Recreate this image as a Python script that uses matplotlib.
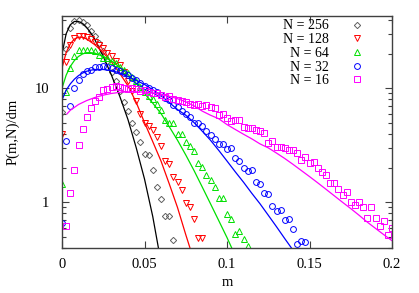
import matplotlib
matplotlib.use("Agg")
import matplotlib.pyplot as plt
import numpy as np
from matplotlib.ticker import FixedLocator, NullFormatter, NullLocator

plt.rcParams['font.family'] = ['Liberation Serif', 'DejaVu Serif']

DM = 0.0025  # histogram bin width in m

# measured histograms P(m,N)/dm, bin k sits at m = (start + k) * DM
p256 = [6.2, 22, 34, 39, 40, 38, 36, 32, 28.5, 25, 21, 17.5, 14, 11.5, 9.5,
        7.5, 6.3, 5.0, 4.1, 3.4, 2.65, 2.6, 1.9, 1.35, 1.07, 0.76, 0.76, 0.47]
p128 = [4.0, 17, 24, 27.5, 28.5, 28.5, 28, 27, 25.5, 24, 22.5, 20.5, 19, 17.5,
        16, 14, 11.5, 9.5, 7.8, 6.0, 5.0, 4.7, 4.3, 3.7, 3.1, 2.3, 2.15, 1.68,
        1.52, 1.28, 0.99, 0.9, 0.71, 0.49, 0.49]
p64 = [1.44, 9.3, 15, 19, 21.5, 21.7, 21.7, 21.5, 21, 19.5, 18.5, 18.5, 17.5,
       16.5, 15.5, 14.5, 13.5, 12.5, 11.5, 10.3, 9.3, 8.5, 8.0, 7.2, 6.5, 5.3,
       5.0, 5.0, 4.0, 4.0, 3.4, 3.1, 2.8, 2.2, 2.05, 1.72, 1.57, 1.37, 1.08,
       1.08, 0.79, 0.71, 0.53, 0.56, 0.48, 0.41]
p32 = [0.66, 3.45, 7.0, 10, 11.8, 13.4, 14.2, 14.5, 15.3, 15.5, 15.7, 15.5,
       15.0, 14.5, 14.2, 13.7, 13.0, 12.3, 11.8, 11.2, 10.5, 10.0, 9.6, 9.3,
       8.7, 8.2, 7.9, 7.1, 6.8, 6.3, 6.0, 5.6, 4.93, 4.93, 4.65, 4.2, 3.89,
       3.6, 3.26, 3.26, 2.95, 3.0, 2.43, 2.28, 2.0, 1.87, 1.92, 1.52, 1.45,
       1.2, 1.18, 0.93, 0.83, 0.85, 0.7, 0.71, 0.58, 0.43, 0.46, 0.45]
p16 = [0.62, 1.2, 1.92, 3.2, 4.37, 5.63, 6.75, 7.8, 8.3, 9.6, 9.9, 10.2, 10.5,
       10.3, 10.0, 9.8, 10.0, 9.8, 9.5, 9.7, 9.3, 9.1, 9.0, 8.8, 8.4, 8.6, 8.1,
       7.9, 7.7, 7.5, 7.2, 7.1, 7.3, 7.0, 7.1, 6.8, 6.7, 5.85, 5.9, 5.5, 5.2,
       5.27, 5.27, 4.6, 4.45, 4.45, 4.3, 4.2, 4.05, 3.3, 3.45, 3.05, 3.07, 3.0,
       2.85, 2.9, 2.72, 2.33, 2.5, 2.2, 2.25, 2.0, 1.85, 1.72, 1.47, 1.47, 1.3,
       1.16, 1.22, 1.0, 0.95, 1.0, 0.9, 0.73, 0.91, 0.73, 0.62, 0.68, 0.52, 0.6]
start = {256: 0, 128: 0, 64: 0, 32: 0, 16: 1}

# fitted curves (m, P)
fit256_m = [0, 0.0025, 0.005, 0.0075, 0.01, 0.0125, 0.015, 0.0175, 0.02, 0.025,
            0.03, 0.035, 0.04, 0.045, 0.05, 0.055, 0.0584]
fit256_p = [20, 30, 36, 38.5, 38.5, 37, 34, 30.5, 26.5, 19, 13, 8.5, 5.3, 3.0,
            1.6, 0.75, 0.4]
fit128_m = [0, 0.0025, 0.005, 0.0075, 0.01, 0.0125, 0.015, 0.02, 0.025, 0.03,
            0.035, 0.04, 0.045, 0.05, 0.055, 0.06, 0.065, 0.07, 0.075, 0.0775]
fit128_p = [15, 20.5, 24.5, 27, 28, 28, 27, 24, 20.5, 17, 13.5, 10.5, 7.5, 5.0,
            3.4, 2.3, 1.45, 0.9, 0.52, 0.4]
fit64_m = [0, 0.0025, 0.005, 0.0075, 0.01, 0.0125, 0.015, 0.0175, 0.02, 0.025,
           0.03, 0.035, 0.04, 0.045, 0.05, 0.055, 0.06, 0.065, 0.07, 0.075,
           0.08, 0.085, 0.09, 0.095, 0.1, 0.105]
fit64_p = [10, 13, 15.5, 17.5, 19, 20, 20.5, 20.5, 20.3, 19, 17.3, 15.3, 13.2,
           11, 9.0, 7.4, 6.0, 4.6, 3.5, 2.6, 1.9, 1.36, 0.97, 0.69, 0.49, 0.34]
fit32_m = [0.0005, 0.0025, 0.005, 0.0075, 0.01, 0.0125, 0.015, 0.0175, 0.02,
           0.025, 0.03, 0.035, 0.04, 0.045, 0.05, 0.055, 0.06, 0.065, 0.07,
           0.075, 0.08, 0.085, 0.09, 0.095, 0.1, 0.105, 0.11, 0.115, 0.12,
           0.125, 0.13, 0.135, 0.14]
fit32_p = [8.2, 9.6, 10.9, 12, 12.9, 13.6, 14.1, 14.4, 14.6, 14.6, 14.3, 13.6,
           12.7, 11.7, 10.8, 9.7, 8.6, 7.5, 6.5, 5.8, 5.0, 4.2, 3.5, 2.85, 2.3,
           1.85, 1.5, 1.2, 0.97, 0.77, 0.61, 0.48, 0.38]
fit16_m = [0.003, 0.005, 0.01, 0.015, 0.02, 0.025, 0.03, 0.035, 0.04, 0.045,
           0.05, 0.055, 0.06, 0.065, 0.07, 0.075, 0.08, 0.085, 0.09, 0.095,
           0.1, 0.105, 0.11, 0.115, 0.12, 0.125, 0.13, 0.135, 0.14, 0.145,
           0.15, 0.155, 0.16, 0.165, 0.17, 0.175, 0.18, 0.185, 0.19, 0.195, 0.2]
fit16_p = [5.95, 6.4, 7.2, 7.8, 8.3, 8.7, 9.0, 9.2, 9.3, 9.3, 9.25, 9.1, 8.85,
           8.5, 8.1, 7.6, 7.0, 6.3, 5.8, 5.4, 4.8, 4.35, 3.95, 3.6, 3.25, 3.0,
           2.7, 2.42, 2.15, 1.9, 1.68, 1.48, 1.3, 1.14, 1.0, 0.88, 0.77, 0.67,
           0.59, 0.52, 0.46]

series = [
    (256, p256, fit256_m, fit256_p, 'D', '#606060', '#000000', 3.2),
    (128, p128, fit128_m, fit128_p, 'v', '#ff0000', '#ff0000', 4.0),
    (64, p64, fit64_m, fit64_p, '^', '#00e000', '#00e000', 4.0),
    (32, p32, fit32_m, fit32_p, 'o', '#0000ff', '#0000ff', 4.2),
    (16, p16, fit16_m, fit16_p, 's', '#ff00ff', '#ff00ff', 4.4),
]

fig = plt.figure(figsize=(4.19, 2.93), dpi=100)
ax = fig.add_axes([62 / 419, 45 / 293, 330 / 419, 232 / 293])

for N, vals, fm, fp, mk, mcol, lcol, ms in series:
    m = (start[N] + np.arange(len(vals))) * DM
    ax.plot(m, vals, linestyle='none', marker=mk, ms=ms, mfc='none',
            mec=mcol, mew=0.7, label='N = %d' % N)
    ax.plot(fm, fp, '-', color=lcol, lw=0.9)

ax.set_yscale('log')
ax.set_xlim(0, 0.2)
ax.set_ylim(0.397, 43)

ax.xaxis.set_major_locator(FixedLocator([0, 0.05, 0.1, 0.15, 0.2]))
ax.set_xticklabels(['0', '0.05', '0.1', '0.15', '0.2'])
ax.xaxis.set_minor_locator(NullLocator())
ax.yaxis.set_major_locator(FixedLocator([1, 10]))
ax.set_yticklabels(['1', '10'])
ax.yaxis.set_minor_locator(FixedLocator([0.4, 0.5, 0.6, 0.7, 0.8, 0.9,
                                         2, 3, 4, 5, 6, 7, 8, 9, 20, 30, 40]))
ax.yaxis.set_minor_formatter(NullFormatter())

ax.tick_params(which='both', direction='in', top=True, right=True,
               color='#404040', labelsize=10.5, labelcolor='black')
ax.tick_params(which='major', length=5, width=0.8)
ax.tick_params(which='minor', length=3, width=0.8)
ax.tick_params(axis='y', pad=9)
ax.tick_params(axis='x', pad=7)
for s in ax.spines.values():
    s.set_color('#404040')
    s.set_linewidth(1.0)

ax.set_xlabel('m', fontsize=10.5, labelpad=4)
ax.set_ylabel('P(m,N)/dm', fontsize=10.5, labelpad=11)

ax.legend(loc='upper right', bbox_to_anchor=(0.915, 0.985), frameon=False,
          markerfirst=False, numpoints=1, fontsize=10, handlelength=1.0,
          handletextpad=1.5, borderpad=0, borderaxespad=0, labelspacing=0.05)

fig.savefig('out.png', dpi=100)
